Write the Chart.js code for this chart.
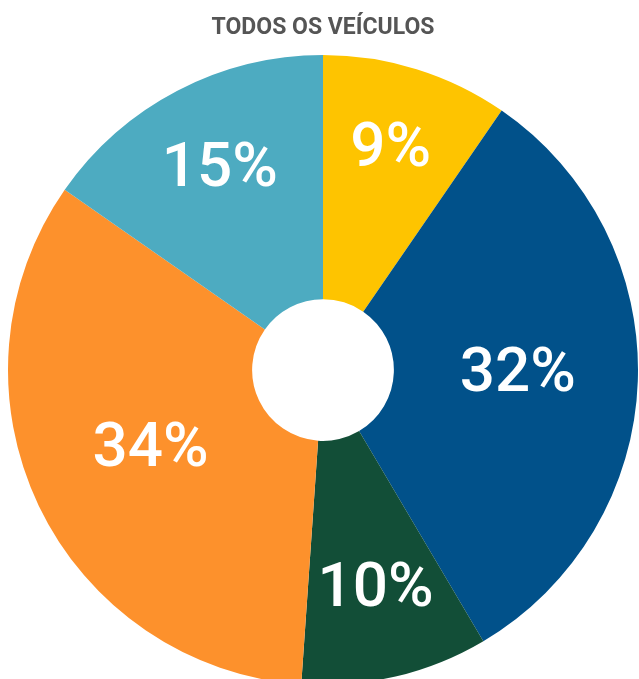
<!DOCTYPE html>
<html lang="pt">
<head>
    <meta charset="UTF-8">
    <script src="https://cdn.jsdelivr.net/npm/chart.js"></script>
    <title>Todos os veículos</title>
    <style>
        html, body { margin: 0; padding: 0; overflow: hidden; background: #fff; }
        canvas { display: block; }
    </style>
</head>
<body>
    <canvas id="myChart" width="639" height="700"></canvas>
    <script>
        // shares (angles), and the printed labels
        const categories = ['Amarelo', 'Azul escuro', 'Verde', 'Laranja', 'Azul claro'];
        const shares = [9.6, 31.9, 9.6, 33.6, 15.3];
        const labels = ['9%', '32%', '10%', '34%', '15%'];
        const colors = ['#FEC400', '#01518A', '#124E37', '#FD912C', '#4DABC1'];

        // put the white labels near the centroid of each ring slice
        const sliceLabels = {
            id: 'sliceLabels',
            afterDatasetsDraw(chart) {
                const ctx = chart.ctx;
                const meta = chart.getDatasetMeta(0);
                const size = 62;
                ctx.save();
                ctx.fillStyle = '#fff';
                ctx.font = '500 ' + size + 'px Roboto';
                ctx.textAlign = 'center';
                ctx.textBaseline = 'alphabetic';
                meta.data.forEach((arc, i) => {
                    const p = arc.getProps(['x', 'y', 'startAngle', 'endAngle', 'innerRadius', 'outerRadius'], true);
                    const R = p.outerRadius, r = p.innerRadius;
                    const half = (p.endAngle - p.startAngle) / 2;
                    const mid = p.startAngle + half;
                    let d = (2 / 3) * (R * R * R - r * r * r) / (R * R - r * r) * Math.sin(half) / half;
                    d *= 1.06;
                    const x = p.x + Math.cos(mid) * d;
                    const y = p.y + Math.sin(mid) * d - 8;
                    ctx.fillText(labels[i], x, y + size * 0.355);
                });
                ctx.restore();
            }
        };

        const ctx = document.getElementById('myChart').getContext('2d');
        new Chart(ctx, {
            type: 'doughnut',
            data: {
                labels: categories,
                datasets: [{
                    data: shares,
                    backgroundColor: colors,
                    borderWidth: 0,
                    hoverOffset: 0,
                    offset: 0
                }]
            },
            options: {
                responsive: false,
                animation: false,
                cutout: '22.5%',
                layout: { padding: { left: 8, right: 1, top: 0, bottom: 0 } },
                plugins: {
                    legend: { display: false },
                    tooltip: { enabled: false },
                    title: {
                        display: true,
                        text: 'TODOS OS VEÍCULOS',
                        color: '#555555',
                        font: { family: 'Roboto', size: 23, weight: '700', lineHeight: 1 },
                        padding: { top: 17, bottom: 0 }
                    }
                }
            },
            plugins: [sliceLabels]
        });
    </script>
</body>
</html>
